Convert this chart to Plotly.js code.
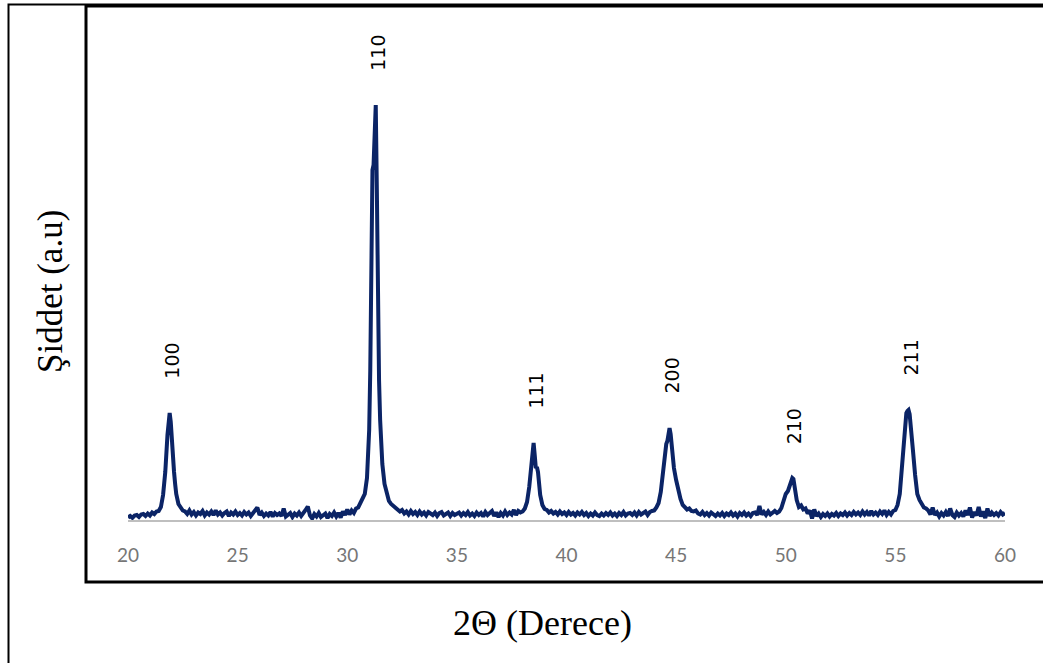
<!DOCTYPE html>
<html>
<head>
<meta charset="utf-8">
<script src="https://cdn.plot.ly/plotly-3.0.1.min.js"></script>
<style>
html,body{margin:0;padding:0;background:#fff;}
#chart{width:1043px;height:663px;}
</style>
</head>
<body>
<div id="chart"></div>
<script>
const twoTheta = [
20.0,20.1,20.2,20.3,20.4,20.5,20.6,20.7,20.8,20.9,21.0,21.1,21.2,21.3,
21.4,21.5,21.6,21.7,21.8,21.85,21.9,21.95,22.0,22.05,22.1,22.15,22.2,22.3,22.4,22.5,
22.6,22.7,22.8,22.9,23.0,23.1,23.2,23.3,23.4,23.5,23.6,23.7,23.8,23.9,24.0,24.1,24.2,24.3,24.4,24.5,
24.6,24.7,24.8,24.9,25.0,25.1,25.2,25.3,25.4,25.5,25.6,25.7,25.8,25.9,26.0,26.1,26.2,26.3,26.4,26.5,
26.6,26.7,26.8,26.9,27.0,27.1,27.2,27.3,27.4,27.5,27.6,27.7,27.8,27.9,28.0,28.1,28.2,28.3,28.4,28.5,
28.6,28.7,28.8,28.9,29.0,29.1,29.2,29.3,29.4,29.5,29.6,29.7,29.8,29.9,30.0,30.1,30.2,30.3,30.4,
30.5,30.6,30.7,30.8,30.9,31.0,31.05,31.1,31.15,31.2,31.25,31.3,31.35,31.4,31.45,31.5,31.6,31.7,31.8,31.9,32.0,32.1,32.2,
32.3,32.4,32.5,32.6,32.7,32.8,32.9,33.0,33.1,33.2,33.3,33.4,33.5,33.6,33.7,33.8,33.9,34.0,34.1,34.2,
34.3,34.4,34.5,34.6,34.7,34.8,34.9,35.0,35.1,35.2,35.3,35.4,35.5,35.6,35.7,35.8,35.9,36.0,36.1,36.2,
36.3,36.4,36.5,36.6,36.7,36.8,36.9,37.0,37.1,37.2,37.3,37.4,37.5,37.6,37.7,37.8,37.9,
38.0,38.1,38.2,38.3,38.4,38.45,38.5,38.55,38.6,38.65,38.7,38.8,38.9,39.0,
39.1,39.2,39.3,39.4,39.5,39.6,39.7,39.8,39.9,40.0,40.1,40.2,40.3,40.4,40.5,40.6,40.7,40.8,40.9,41.0,
41.1,41.2,41.3,41.4,41.5,41.6,41.7,41.8,41.9,42.0,42.1,42.2,42.3,42.4,42.5,42.6,42.7,42.8,42.9,43.0,
43.1,43.2,43.3,43.4,43.5,43.6,43.7,43.8,43.9,
44.0,44.1,44.2,44.3,44.4,44.5,44.55,44.6,44.65,44.7,44.75,44.8,44.9,45.0,45.1,45.2,45.3,45.4,45.5,
45.6,45.7,45.8,45.9,46.0,46.1,46.2,46.3,46.4,46.5,46.6,46.7,46.8,46.9,47.0,47.1,47.2,47.3,47.4,47.5,
47.6,47.7,47.8,47.9,48.0,48.1,48.2,48.3,48.4,48.5,48.6,48.7,48.8,48.9,49.0,49.1,49.2,49.3,49.4,49.5,49.6,
49.7,49.8,49.9,50.0,50.1,50.2,50.3,50.35,50.4,50.5,50.6,50.7,50.8,
50.9,51.0,51.1,51.2,51.3,51.4,51.5,51.6,51.7,51.8,51.9,52.0,52.1,52.2,52.3,52.4,52.5,52.6,52.7,52.8,
52.9,53.0,53.1,53.2,53.3,53.4,53.5,53.6,53.7,53.8,53.9,54.0,54.1,54.2,54.3,54.4,54.5,54.6,54.7,54.8,54.9,
55.0,55.1,55.2,55.3,55.4,55.5,55.55,55.6,55.65,55.7,55.8,55.9,56.0,56.1,56.2,56.3,56.4,
56.5,56.6,56.7,56.8,56.9,57.0,57.1,57.2,57.3,57.4,57.5,57.6,57.7,57.8,57.9,58.0,58.1,58.2,58.3,58.4,
58.5,58.6,58.7,58.8,58.9,59.0,59.1,59.2,59.3,59.4,59.5,59.6,59.7,59.8,59.9,60.0
];
const intensity = [
25,40,22,45,50,30,55,60,40,65,45,75,60,85,
90,130,250,480,850,1000,1070,980,760,600,480,360,260,160,120,95,
85,60,95,55,80,45,75,60,90,45,75,55,85,50,95,55,75,45,70,85,
40,75,55,85,50,70,45,80,55,75,40,70,85,125,50,75,40,65,45,80,
35,70,50,65,40,115,35,60,70,30,65,45,75,40,65,100,135,45,15,60,
35,70,30,55,65,20,60,40,75,35,70,25,85,50,105,55,95,70,115,
125,170,210,260,420,900,1500,3300,3500,3550,3900,4150,3300,1900,1400,1000,560,360,260,190,160,140,120,
110,85,100,65,85,55,90,60,80,50,85,55,75,45,80,60,50,75,40,70,
80,45,65,75,40,70,50,65,75,45,70,50,80,45,65,40,75,50,70,35,
80,50,65,90,40,75,30,70,45,85,50,75,55,100,50,90,75,
85,115,180,330,600,740,770,650,520,530,480,250,150,110,
100,75,90,65,80,55,85,60,75,50,80,55,70,45,75,55,80,50,70,40,
65,45,75,50,40,65,45,70,50,75,45,65,40,70,50,80,45,65,70,50,
75,45,80,55,70,85,50,80,90,
95,125,170,280,480,720,760,790,880,920,860,700,520,400,290,210,150,125,105,
115,90,85,95,65,55,80,50,70,45,75,50,40,65,45,70,40,65,50,75,
45,65,35,70,50,75,45,65,40,70,75,50,140,55,80,50,85,55,75,90,70,
85,120,200,260,290,360,420,410,330,200,130,145,105,
115,65,95,15,105,40,65,30,60,40,65,35,60,45,70,40,65,50,75,45,
70,50,80,55,75,50,85,55,80,45,90,55,75,50,85,60,95,50,80,55,90,
100,150,260,500,850,1070,1090,1100,1060,960,700,450,260,200,160,125,115,
95,55,125,50,75,35,70,45,80,40,115,50,30,75,45,70,35,95,50,125,
25,80,45,130,35,85,20,115,40,75,50,70,45,80,55,70
];
const xTicks = [20,25,30,35,40,45,50,55,60];
const peakLabels = ['100','110','111','200','210','211'];
const peakAngles = [21.9,31.3,38.5,44.7,50.3,55.6];
const xTitle = '2\u0398 (Derece)';
const yTitle = '\u015Eiddet (a.u)';

const W = 1043, H = 663;
const px = v => v / W;          // horizontal pixel -> paper
const py = v => (H - v) / H;    // vertical pixel -> paper

function peakTop(a){
  let best = 0;
  for (let i = 0; i < twoTheta.length; i++){
    if (Math.abs(twoTheta[i] - a) <= 0.2 && intensity[i] > best) best = intensity[i];
  }
  return best;
}

const annotations = peakLabels.map((t, i) => ({
  x: peakAngles[i], y: peakTop(peakAngles[i]), xref: 'x', yref: 'y',
  text: t, showarrow: false, textangle: -90, yshift: 52, xshift: 2,
  xanchor: 'center', yanchor: 'middle',
  font: {family: 'DejaVu Sans', size: 19, color: '#000'}
}));
annotations.push({
  x: px(542), y: py(623), xref: 'paper', yref: 'paper', text: xTitle,
  showarrow: false, xanchor: 'center', yanchor: 'middle',
  font: {family: 'Liberation Serif', size: 36, color: '#000'}
});
annotations.push({
  x: px(50), y: py(292), xref: 'paper', yref: 'paper', text: yTitle,
  showarrow: false, textangle: -90, xanchor: 'center', yanchor: 'middle',
  font: {family: 'Liberation Serif', size: 35, color: '#000'}
});

const trace = {
  x: twoTheta, y: intensity, type: 'scatter', mode: 'lines',
  line: {color: '#0b2466', width: 4},
  hoverinfo: 'skip', showlegend: false
};

const layout = {
  width: W, height: H,
  margin: {l: 0, r: 0, t: 0, b: 0, pad: 0},
  paper_bgcolor: '#fff', plot_bgcolor: 'rgba(0,0,0,0)',
  xaxis: {
    range: [20, 60], domain: [px(128), px(1005)],
    tickvals: xTicks, ticktext: xTicks.map(String),
    ticks: '', showgrid: false, zeroline: false,
    showline: true, linecolor: '#bfbfbf', linewidth: 2,
    tickfont: {family: 'Lato', size: 19, color: '#767676'},
    ticklabelstandoff: 17, fixedrange: true
  },
  yaxis: {
    range: [0, 5130], domain: [py(520), py(7)],
    visible: false, showgrid: false, zeroline: false, fixedrange: true
  },
  shapes: [
    {type: 'rect', xref: 'paper', yref: 'paper', x0: px(8.5), x1: 1.2, y0: -0.2, y1: py(4.5),
     line: {color: '#000', width: 2}, fillcolor: 'rgba(0,0,0,0)', layer: 'below'},
    {type: 'rect', xref: 'paper', yref: 'paper', x0: px(86), x1: 1.2, y0: py(582), y1: py(6),
     line: {color: '#000', width: 3}, fillcolor: 'rgba(0,0,0,0)', layer: 'below'}
  ],
  annotations: annotations
};

Plotly.newPlot('chart', [trace], layout, {staticPlot: true, displayModeBar: false});
</script>
</body>
</html>
